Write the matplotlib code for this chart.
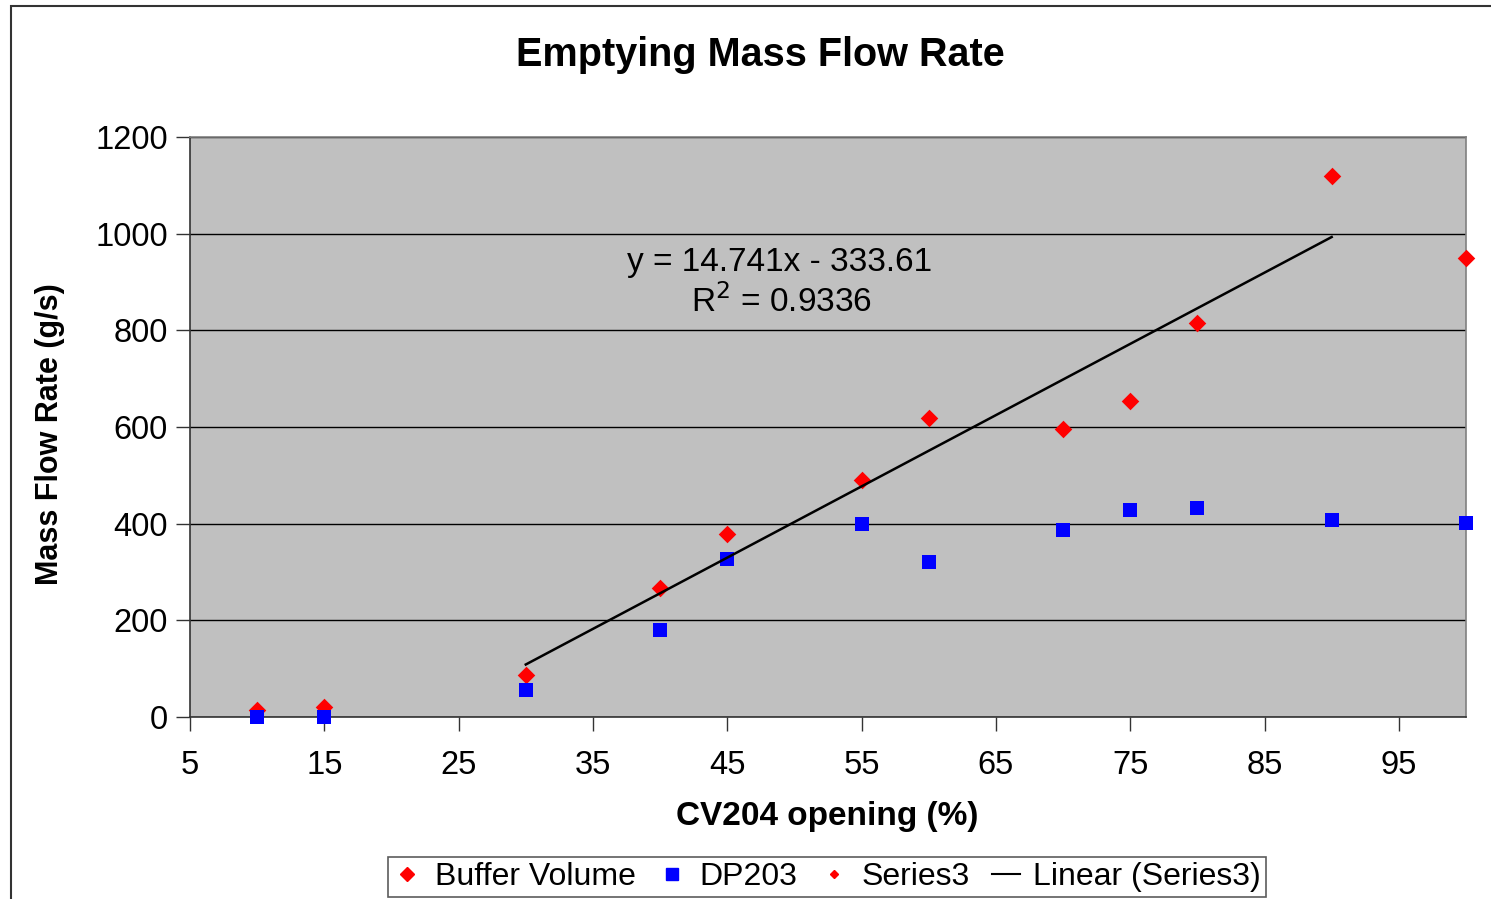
import matplotlib
matplotlib.use("Agg")
import matplotlib.pyplot as plt
from matplotlib.lines import Line2D
from matplotlib.patches import Rectangle
import numpy as np

plt.rcParams['font.family'] = ['Liberation Sans', 'DejaVu Sans']

# Data
cv_opening = [10, 15, 30, 40, 45, 55, 60, 70, 75, 80, 90, 100]
buffer_volume = [15, 20, 87, 267, 379, 490, 619, 596, 654, 815, 1120, 950]
dp203 = [0, 0, 56, 180, 327, 399, 321, 387, 428, 432, 408, 401]
series3_x = [30, 40, 45, 55, 60, 70, 75, 80, 90]
series3_y = [87, 267, 379, 490, 619, 596, 654, 815, 1120]
trend_slope = 14.741
trend_intercept = -333.61
x_ticks = [5, 15, 25, 35, 45, 55, 65, 75, 85, 95]
y_ticks = [0, 200, 400, 600, 800, 1000, 1200]

W, H = 1491, 899
fig = plt.figure(figsize=(W / 100, H / 100), dpi=100)

# outer chart border
fig.patches.append(Rectangle((11 / W, -0.01), 1.02, 1 - 6 / H + 0.01,
                             transform=fig.transFigure, fill=False,
                             edgecolor='#333333', linewidth=1.5))

ax = fig.add_axes([190 / W, 1 - 717 / H, (1466 - 190) / W, (717 - 137) / H])
ax.set_facecolor('#C0C0C0')
ax.set_xlim(5, 100)
ax.set_ylim(0, 1200)
ax.set_xticks(x_ticks)
ax.set_yticks(y_ticks)
ax.tick_params(axis='both', direction='out', length=10, width=1, color='#333333',
               labelsize=23.5, pad=6)
ax.tick_params(axis='x', pad=14)
ax.grid(axis='y', color='black', linewidth=1)
ax.set_axisbelow(True)
for s in ['top', 'right']:
    ax.spines[s].set_color('#808080')
    ax.spines[s].set_linewidth(1.2)
for s in ['left', 'bottom']:
    ax.spines[s].set_color('#333333')
    ax.spines[s].set_linewidth(1.2)

ax.scatter(cv_opening, buffer_volume, marker='D', s=80, color='red', zorder=3,
           linewidths=0, clip_on=False)
ax.scatter(cv_opening, dp203, marker='s', s=90, color='blue', zorder=3,
           linewidths=0, clip_on=False)
ax.scatter(series3_x, series3_y, marker='D', s=20, color='red', zorder=4,
           linewidths=0)

tx = np.array([min(series3_x), max(series3_x)])
ax.plot(tx, trend_slope * tx + trend_intercept, color='black', linewidth=1.8, zorder=5)

fig.text(780 / W, 1 - 262 / H, 'y = 14.741x - 333.61', ha='center', va='center',
         fontsize=24)
fig.text(781 / W, 1 - 302 / H, 'R$^{2}$ = 0.9336', ha='center', va='center',
         fontsize=24)

fig.text(760 / W, 1 - 55 / H, 'Emptying Mass Flow Rate', ha='center', va='center',
         fontsize=28.5, fontweight='bold')
fig.text(827 / W, 1 - 817 / H, 'CV204 opening (%)', ha='center', va='center',
         fontsize=24, fontweight='bold')
fig.text(50 / W, 1 - 434 / H, 'Mass Flow Rate (g/s)', ha='center', va='center',
         fontsize=22, fontweight='bold', rotation=90)

handles = [
    Line2D([], [], marker='D', color='red', linestyle='none', markersize=7),
    Line2D([], [], marker='s', color='blue', linestyle='none', markersize=8),
    Line2D([], [], marker='D', color='red', linestyle='none', markersize=4),
    Line2D([], [], color='black', linewidth=1.5),
]
labels = ['Buffer Volume', 'DP203', 'Series3', 'Linear (Series3)']
leg = fig.legend(handles, labels, loc='center', bbox_to_anchor=(827 / W, 1 - 877 / H),
                 ncol=4, fontsize=23, frameon=True, fancybox=False,
                 handlelength=0.9, handletextpad=0.4, columnspacing=0.7,
                 borderpad=0.15, edgecolor='#333333')
leg.get_frame().set_linewidth(1.2)

fig.savefig('out.png', dpi=100)
